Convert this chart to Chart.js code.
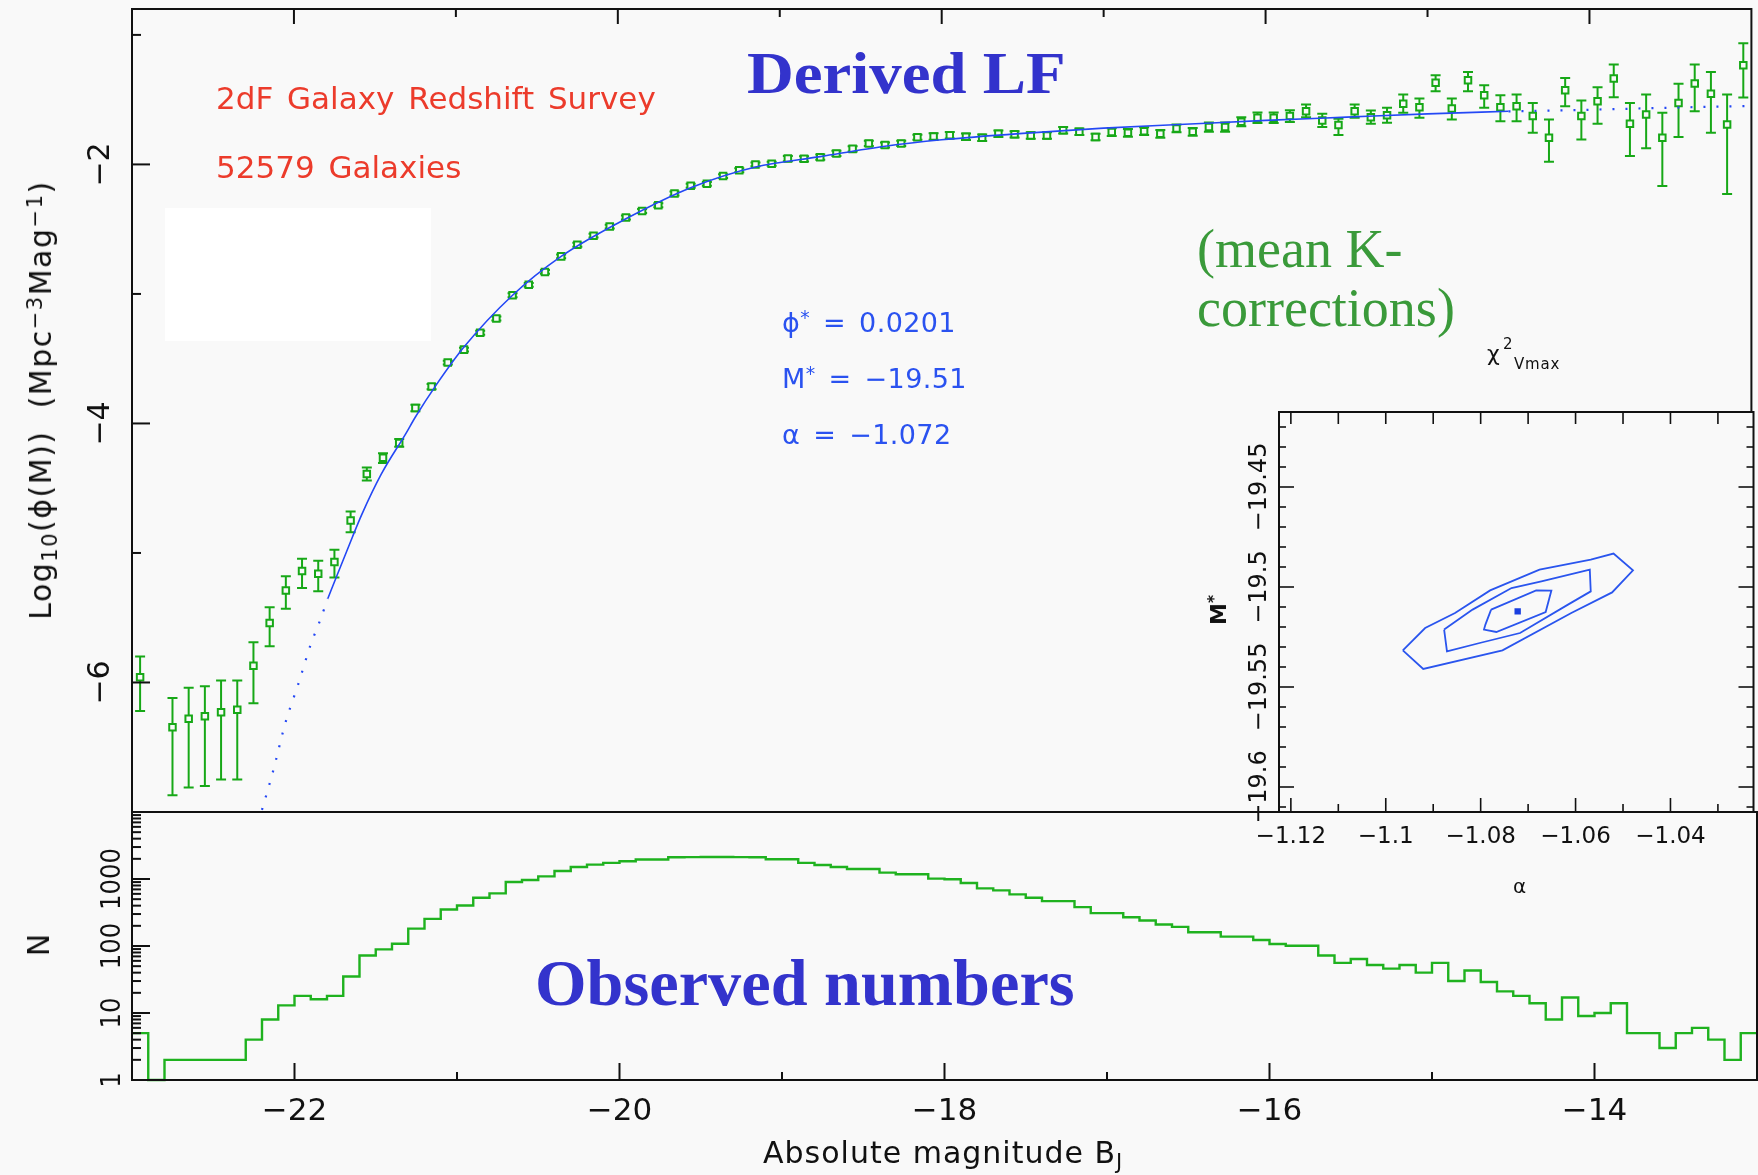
<!DOCTYPE html>
<html><head><meta charset="utf-8">
<script src="https://cdn.jsdelivr.net/npm/chart.js@4.4.1/dist/chart.umd.min.js"></script>
<style>
html,body{margin:0;padding:0;background:#f9f9f9;}
body{width:1758px;height:1175px;position:relative;overflow:hidden;font-family:'DejaVu Sans',sans-serif;}
canvas{position:absolute;left:0;top:0;}
.t{position:absolute;white-space:nowrap;line-height:1;}
.serif{font-family:'Liberation Serif','Times New Roman',serif;}
.rot{transform:translate(-50%,-50%) rotate(-90deg);}
.sp{position:relative;top:-0.45em;font-size:0.7em;}
.sb{position:relative;top:0.3em;font-size:0.7em;}
.par{font-size:27px;color:#2a52f0;word-spacing:4px;letter-spacing:0.4px;}
</style></head><body>
<div style="position:absolute;left:165px;top:208px;width:266px;height:133px;background:#ffffff"></div>
<canvas id="cMain" width="1758" height="1175"></canvas>
<canvas id="cHist" width="1758" height="1175"></canvas>
<canvas id="cInset" width="1758" height="1175"></canvas>

<div class="t" style="left:216px;top:83px;font-size:31px;color:#ec3b2b;word-spacing:4px">2dF Galaxy Redshift Survey</div>
<div class="t" style="left:216px;top:152px;font-size:31px;color:#ec3b2b;word-spacing:4px">52579 Galaxies</div>
<div class="t serif" style="left:747px;top:43px;font-size:60px;font-weight:bold;color:#3333cc;transform:scaleX(1.08);transform-origin:0 0">Derived LF</div>
<div class="t serif" style="left:535px;top:951px;font-size:65px;font-weight:bold;color:#3333cc;transform:scaleX(1.02);transform-origin:0 0">Observed numbers</div>
<div class="t serif" style="left:1197px;top:220px;font-size:54px;line-height:59px;color:#3a9a3a">(mean K-<br>corrections)</div>
<div class="t par" style="left:782px;top:309px">ϕ<span class="sp">*</span> = 0.0201</div>
<div class="t par" style="left:782px;top:365px">M<span class="sp">*</span> = −19.51</div>
<div class="t par" style="left:782px;top:421px">α = −1.072</div>
<div class="t" style="left:1487px;top:343px;font-size:22px;color:#111">χ</div>
<div class="t" style="left:1503px;top:337px;font-size:15px;color:#111">2</div>
<div class="t" style="left:1514px;top:357px;font-size:15px;letter-spacing:0.8px;color:#111">Vmax</div>
<div class="t" style="left:1513px;top:876px;font-size:20px;color:#111">α</div>
<div class="t rot" style="left:1219px;top:610px;font-size:22px;font-weight:bold;color:#111">M<span class="sp">*</span></div>
<div class="t rot" style="left:41px;top:400px;font-size:30px;letter-spacing:1.5px;color:#111">Log<span class="sb">10</span>(ϕ(M))&nbsp;&nbsp;(Mpc<span class="sp">−3</span>Mag<span class="sp">−1</span>)</div>
<div class="t rot" style="left:39px;top:945px;font-size:30px;color:#111">N</div>
<div class="t" style="left:763px;top:1138px;font-size:30px;letter-spacing:1px;color:#111">Absolute magnitude B<span class="sb">J</span></div>

<script>
// ---------------- DATA ----------------
const lfMag = [-22.95,-22.75,-22.65,-22.55,-22.45,-22.35,-22.25,-22.15,-22.05,-21.95,
 -21.85,-21.75,-21.65,-21.55,-21.45,-21.35,-21.25,-21.15,-21.05,-20.95,
 -20.85,-20.75,-20.65,-20.55,-20.45,-20.35,-20.25,-20.15,-20.05,-19.95,
 -19.85,-19.75,-19.65,-19.55,-19.45,-19.35,-19.25,-19.15,-19.05,-18.95,
 -18.85,-18.75,-18.65,-18.55,-18.45,-18.35,-18.25,-18.15,-18.05,-17.95,
 -17.85,-17.75,-17.65,-17.55,-17.45,-17.35,-17.25,-17.15,-17.05,-16.95,
 -16.85,-16.75,-16.65,-16.55,-16.45,-16.35,-16.25,-16.15,-16.05,-15.95,
 -15.85,-15.75,-15.65,-15.55,-15.45,-15.35,-15.25,-15.15,-15.05,-14.95,
 -14.85,-14.75,-14.65,-14.55,-14.45,-14.35,-14.25,-14.15,-14.05,-13.95,
 -13.85,-13.75,-13.65,-13.55,-13.45,-13.35,-13.25,-13.15,-13.05];
const lfLogPhi = [-5.96,-6.345,-6.28,-6.26,-6.23,-6.21,-5.87,-5.54,-5.29,-5.14,
 -5.16,-5.07,-4.75,-4.39,-4.265,-4.15,-3.88,-3.715,-3.53,-3.43,
 -3.30,-3.19,-3.01,-2.93,-2.83,-2.71,-2.62,-2.55,-2.48,-2.41,
 -2.36,-2.315,-2.225,-2.165,-2.15,-2.09,-2.045,-2.00,-1.995,-1.955,
 -1.957,-1.944,-1.915,-1.88,-1.838,-1.85,-1.838,-1.79,-1.784,-1.774,
 -1.787,-1.794,-1.764,-1.768,-1.776,-1.776,-1.737,-1.748,-1.789,-1.75,
 -1.756,-1.743,-1.764,-1.722,-1.748,-1.712,-1.712,-1.671,-1.64,-1.64,
 -1.627,-1.589,-1.66,-1.696,-1.589,-1.635,-1.62,-1.532,-1.558,-1.37,
 -1.568,-1.35,-1.465,-1.558,-1.55,-1.627,-1.794,-1.427,-1.627,-1.512,
 -1.337,-1.686,-1.614,-1.794,-1.525,-1.375,-1.455,-1.691,-1.234];
const lfErrUp = [0.16,0.225,0.24,0.23,0.245,0.225,0.18,0.12,0.11,0.095,
 0.10,0.095,0.07,0.05,0.035,0.03,0.025,0.02,0.015,0.015,
 0.015,0.015,0.015,0.015,0.015,0.015,0.015,0.015,0.015,0.015,
 0.015,0.015,0.015,0.015,0.015,0.015,0.015,0.015,0.015,0.02,
 0.02,0.02,0.02,0.02,0.02,0.02,0.02,0.02,0.025,0.025,
 0.025,0.025,0.025,0.025,0.025,0.025,0.025,0.025,0.025,0.03,
 0.03,0.03,0.03,0.03,0.03,0.035,0.035,0.035,0.04,0.04,
 0.045,0.052,0.051,0.048,0.052,0.051,0.057,0.072,0.067,0.059,
 0.077,0.064,0.077,0.093,0.09,0.102,0.141,0.095,0.12,0.108,
 0.108,0.161,0.154,0.192,0.147,0.146,0.169,0.231,0.169];
const lfErrDown = [0.26,0.525,0.53,0.54,0.52,0.54,0.29,0.18,0.14,0.13,
 0.135,0.12,0.09,0.05,0.04,0.03,0.025,0.02,0.015,0.015,
 0.015,0.015,0.015,0.015,0.015,0.015,0.015,0.015,0.015,0.015,
 0.015,0.015,0.015,0.015,0.015,0.015,0.015,0.015,0.015,0.02,
 0.02,0.02,0.02,0.02,0.02,0.02,0.02,0.02,0.025,0.025,
 0.025,0.025,0.025,0.025,0.025,0.025,0.025,0.025,0.025,0.03,
 0.03,0.03,0.03,0.03,0.03,0.035,0.035,0.035,0.04,0.04,
 0.045,0.046,0.052,0.077,0.051,0.051,0.059,0.07,0.082,0.065,
 0.085,0.085,0.098,0.108,0.116,0.129,0.186,0.123,0.18,0.174,
 0.144,0.249,0.262,0.372,0.264,0.214,0.301,0.538,0.25];

// Schechter fit curve
const fitDotLeftMag = [-22.22,-22.13,-22.05,-21.97,-21.9,-21.84,-21.79];
const fitDotLeftVal = [-7.08,-6.69,-6.30,-6.0,-5.72,-5.525,-5.35];
const fitSolidMag = [-21.79,-21.73,-21.64,-21.58,-21.46,-21.31,-21.25,-21.12,-20.95,-20.65,-20.35,-19.95,-19.55,-19.15,-18.75,-18.35,-18.0,-17.5,-17.0,-16.5,-16.0,-15.5,-15.0,-14.5];
const fitSolidVal = [-5.35,-5.16,-4.88,-4.70,-4.39,-4.08,-3.95,-3.70,-3.41,-3.01,-2.71,-2.42,-2.18,-2.02,-1.94,-1.86,-1.81,-1.76,-1.72,-1.69,-1.66,-1.635,-1.61,-1.59];
const fitDotRightMag = [-14.5,-14.0,-13.5,-13.0];
const fitDotRightVal = [-1.59,-1.578,-1.562,-1.548];

// Observed numbers per 0.1 mag bin, from -23.0 to -13.0
const histStart = -23.0;
const histBinWidth = 0.1;
const histCounts = [5,1,2,2,2,2,2,4,8,13,
 18,16,18,35,72,89,108,182,254,351,
 403,525,610,902,966,1096,1318,1514,1641,1738,
 1841,1950,1950,2113,2120,2130,2130,2120,2110,1972,
 1972,1738,1622,1514,1413,1413,1245,1175,1175,1012,
 990,871,724,676,589,525,468,468,380,309,
 309,269,240,209,193,160,160,138,138,123,
 107,101,101,72,56,64,52,46,52,40,
 56,30,43,29,21,18,14,8,17,9,
 10,14,5,5,3,5,6,4,2,5];

// Inset: chi^2 contours in (alpha, M*)
const outerAlpha = [-1.0964,-1.0917,-1.0854,-1.0780,-1.0676,-1.0568,-1.0520,-1.0479,-1.0523,-1.0609,-1.0754,-1.0921,-1.0964];
const outerMstar = [-19.5317,-19.5205,-19.513,-19.5017,-19.4913,-19.4863,-19.4833,-19.4917,-19.5027,-19.513,-19.5317,-19.541,-19.5317];
const midAlpha = [-1.0877,-1.0817,-1.0735,-1.0672,-1.0570,-1.0568,-1.0616,-1.0717,-1.0802,-1.0871,-1.0877];
const midMstar = [-19.5213,-19.5113,-19.5005,-19.4972,-19.4913,-19.5022,-19.5088,-19.523,-19.528,-19.5322,-19.5213];
const innerAlpha = [-1.0778,-1.0683,-1.0651,-1.0663,-1.0767,-1.0793,-1.079,-1.0778];
const innerMstar = [-19.5113,-19.5017,-19.5018,-19.5125,-19.5225,-19.5213,-19.5188,-19.5113];
const bestAlpha = [-1.0722];
const bestMstar = [-19.5122];

// Ticks
const magTicks = [-22,-21,-20,-19,-18,-17,-16,-15,-14];
const magLabels = [-22,-20,-18,-16,-14];
const phiTicks = [-1,-2,-3,-4,-5,-6];
const phiLabels = [-2,-4,-6];
const nDecades = [1,10,100,1000];
const nLabels = ['1','10','100','1000'];
const alphaTicks = [-1.12,-1.11,-1.10,-1.09,-1.08,-1.07,-1.06,-1.05,-1.04,-1.03];
const alphaLabels = [-1.12,-1.1,-1.08,-1.06,-1.04];
const mstarTicks = [-19.61,-19.60,-19.59,-19.58,-19.57,-19.56,-19.55,-19.54,-19.53,-19.52,-19.51,-19.50,-19.49,-19.48,-19.47,-19.46,-19.45,-19.44,-19.43,-19.42];
const mstarLabels = [-19.45,-19.5,-19.55,-19.6];

// ---------------- DRAWING ----------------
const BG='#f9f9f9', AX='#111111', GREEN='#17a817', HGREEN='#1fb21f', BLUE='#2448f5', CBLUE='#2a55ee';
const pts = (xs, ys) => xs.map((v,i)=>({x:v, y:ys[i]}));
const near = (arr, v) => arr.some(a => Math.abs(a - v) < 1e-9);
const fmt = v => (v<0?'\u2212':'') + String(Math.abs(v));
function seg(ctx,x1,y1,x2,y2){ctx.beginPath();ctx.moveTo(x1,y1);ctx.lineTo(x2,y2);ctx.stroke();}
function vText(ctx,t,x,y){ctx.save();ctx.translate(x,y);ctx.rotate(-Math.PI/2);ctx.textAlign='center';ctx.textBaseline='alphabetic';ctx.fillText(t,0,0);ctx.restore();}
function base(padding){
  return {responsive:false, animation:false, events:[], layout:{padding},
    plugins:{legend:{display:false}, tooltip:{enabled:false}}};
}

const errorBars = {
  id:'errorBars',
  beforeDatasetsDraw(chart){
    const {ctx, chartArea:a, scales:{x,y}} = chart;
    ctx.save(); ctx.beginPath(); ctx.rect(a.left,a.top,a.right-a.left,a.bottom-a.top); ctx.clip();
    ctx.strokeStyle=GREEN; ctx.lineWidth=2;
    lfMag.forEach((m,i)=>{
      const px=x.getPixelForValue(m);
      const yt=y.getPixelForValue(lfLogPhi[i]+lfErrUp[i]);
      const yb=y.getPixelForValue(lfLogPhi[i]-lfErrDown[i]);
      seg(ctx,px,yt,px,yb); seg(ctx,px-5,yt,px+5,yt); seg(ctx,px-5,yb,px+5,yb);
    });
    ctx.restore();
  }
};

const mainAxes = {
  id:'mainAxes',
  afterDraw(chart){
    const {ctx, chartArea:a, scales:{x,y}} = chart;
    ctx.save(); ctx.strokeStyle=AX; ctx.lineWidth=2;
    ctx.strokeRect(a.left,a.top,a.right-a.left,a.bottom-a.top);
    phiTicks.forEach(v=>{const py=y.getPixelForValue(v); seg(ctx,a.left,py,a.left+(near(phiLabels,v)?18:9),py);});
    magTicks.forEach(m=>{const px=x.getPixelForValue(m); seg(ctx,px,a.top,px,a.top+(near(magLabels,m)?15:8));});
    ctx.fillStyle=AX; ctx.font='30px "DejaVu Sans"';
    phiLabels.forEach(v=>vText(ctx,fmt(v),a.left-23,y.getPixelForValue(v)));
    ctx.restore();
  }
};

const histAxes = {
  id:'histAxes',
  afterDraw(chart){
    const {ctx, chartArea:a, scales:{x,y}} = chart;
    ctx.save(); ctx.strokeStyle=AX; ctx.lineWidth=2;
    ctx.strokeRect(a.left,a.top,a.right-a.left,a.bottom-a.top);
    magTicks.forEach(m=>{const px=x.getPixelForValue(m); seg(ctx,px,a.bottom,px,a.bottom-(near(magLabels,m)?17:8));});
    nDecades.concat([10000]).forEach(d=>{
      for(let k=1;k<=9;k++){
        const v=d*k; if(v>10000) break;
        const py=y.getPixelForValue(v);
        if(py<a.top+1 || py>a.bottom-1) continue;
        seg(ctx,a.left,py,a.left+(k===1?18:9),py);
      }
    });
    ctx.fillStyle=AX; ctx.font='31px "DejaVu Sans"'; ctx.textAlign='center'; ctx.textBaseline='alphabetic';
    magLabels.forEach(m=>ctx.fillText(fmt(m), x.getPixelForValue(m), a.bottom+40));
    ctx.font='27px "Liberation Sans Narrow","DejaVu Sans Condensed","Liberation Sans"';
    nDecades.forEach((d,i)=>vText(ctx,nLabels[i],a.left-12,y.getPixelForValue(d)));
    ctx.restore();
  }
};

const insetAxes = {
  id:'insetAxes',
  beforeDraw(chart){
    const {ctx, chartArea:a} = chart;
    ctx.save(); ctx.fillStyle=BG; ctx.fillRect(a.left,a.top,a.right-a.left,a.bottom-a.top); ctx.restore();
  },
  afterDraw(chart){
    const {ctx, chartArea:a, scales:{x,y}} = chart;
    ctx.save(); ctx.strokeStyle=AX; ctx.lineWidth=2;
    ctx.strokeRect(a.left,a.top,a.right-a.left,a.bottom-a.top);
    ctx.lineWidth=1.6;
    mstarTicks.forEach(v=>{
      const py=y.getPixelForValue(v); const L = near(mstarLabels,v)?15:7;
      seg(ctx,a.left,py,a.left+L,py); seg(ctx,a.right,py,a.right-L,py);
    });
    alphaTicks.forEach(v=>{
      const px=x.getPixelForValue(v); const L = near(alphaLabels,v)?14:8;
      seg(ctx,px,a.top,px,a.top+12); seg(ctx,px,a.bottom,px,a.bottom-L);
    });
    ctx.fillStyle=AX; ctx.font='23px "DejaVu Sans"'; ctx.textAlign='center'; ctx.textBaseline='alphabetic';
    alphaLabels.forEach(v=>ctx.fillText(fmt(v), x.getPixelForValue(v), a.bottom+31));
    ctx.font='24px "DejaVu Sans"';
    mstarLabels.forEach(v=>vText(ctx,fmt(v),a.left-13,y.getPixelForValue(v)));
    ctx.restore();
  }
};

// Main LF panel
new Chart(document.getElementById('cMain'), {
  type:'scatter',
  data:{datasets:[
    {type:'line', data:pts(fitDotLeftMag,fitDotLeftVal), borderColor:BLUE, borderWidth:2.2, borderDash:[2,11], pointRadius:0, tension:0.3},
    {type:'line', data:pts(fitSolidMag,fitSolidVal), borderColor:BLUE, borderWidth:1.6, pointRadius:0, cubicInterpolationMode:'monotone'},
    {type:'line', data:pts(fitDotRightMag,fitDotRightVal), borderColor:BLUE, borderWidth:2.2, borderDash:[2,11], pointRadius:0},
    {type:'scatter', data:pts(lfMag,lfLogPhi), pointStyle:'rect', pointRadius:4.6, borderColor:GREEN, backgroundColor:BG, borderWidth:2}
  ]},
  options:Object.assign(base({left:132, top:9, right:1, bottom:363}), {
    scales:{x:{type:'linear', min:-23, max:-13, display:false}, y:{type:'linear', min:-7, max:-0.8, display:false}}
  }),
  plugins:[errorBars, mainAxes]
});

// Histogram panel (each count holds from its bin's lower edge to the next edge)
const histEdges = histCounts.map((c,i)=>histStart + i*histBinWidth).concat([histStart + histCounts.length*histBinWidth]);
const histVals = histCounts.concat([histCounts[histCounts.length-1]]);
new Chart(document.getElementById('cHist'), {
  type:'line',
  data:{datasets:[
    {data:pts(histEdges,histVals), stepped:'before', borderColor:HGREEN, borderWidth:2.4, pointRadius:0, fill:false, clip:2}
  ]},
  options:Object.assign(base({left:132, top:812, right:1, bottom:95}), {
    scales:{x:{type:'linear', min:-23, max:-13, display:false}, y:{type:'logarithmic', min:1, max:10000, display:false}}
  }),
  plugins:[histAxes]
});

// Inset chi^2 contours
new Chart(document.getElementById('cInset'), {
  type:'scatter',
  data:{datasets:[
    {data:pts(outerAlpha,outerMstar), showLine:true, borderColor:CBLUE, borderWidth:1.8, pointRadius:0, fill:false},
    {data:pts(midAlpha,midMstar), showLine:true, borderColor:CBLUE, borderWidth:1.8, pointRadius:0, fill:false},
    {data:pts(innerAlpha,innerMstar), showLine:true, borderColor:CBLUE, borderWidth:1.8, pointRadius:0, fill:false},
    {data:pts(bestAlpha,bestMstar), pointStyle:'rect', pointRadius:4.5, backgroundColor:'#1a3fe0', borderColor:'#1a3fe0', borderWidth:0}
  ]},
  options:Object.assign(base({left:1279, top:412, right:1, bottom:363}), {
    scales:{x:{type:'linear', min:-1.1225, max:-1.0225, display:false}, y:{type:'linear', min:-19.6125, max:-19.4125, display:false}}
  }),
  plugins:[insetAxes]
});
</script>
</body></html>
